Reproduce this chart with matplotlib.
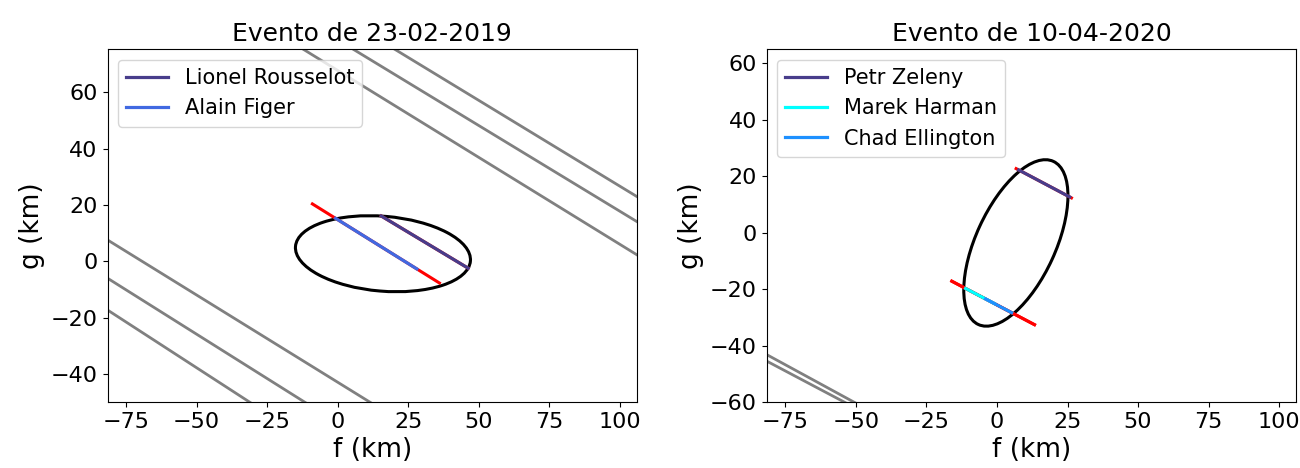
import numpy as np
import matplotlib
matplotlib.use("Agg")
import matplotlib.pyplot as plt
from matplotlib.patches import Ellipse
from matplotlib.ticker import MultipleLocator

# ---- Event of 23-02-2019 -------------------------------------------------
title_2019 = "Evento de 23-02-2019"
observers_2019 = ["Lionel Rousselot", "Alain Figer"]
colors_2019 = ["darkslateblue", "royalblue"]
# chord endpoints (f, g) in km
chord_start_2019 = [(15.4, 16.1), (-0.8, 15.28)]
chord_end_2019 = [(46.2, -2.45), (28.0, -2.70)]
# timing uncertainty extent of each chord
err_start_2019 = [(15.4, 16.1), (-9.0, 20.4)]
err_end_2019 = [(46.2, -2.45), (36.0, -7.7)]
# negative chords (two points on each line)
neg_start_2019 = [(-12.3, 75.4), (5.4, 75.4), (20.1, 75.4),
                  (-81.6, 7.6), (-81.6, -6.0), (-81.6, -17.3)]
neg_end_2019 = [(106.0, 2.3), (106.0, 14.1), (106.0, 23.0),
                (11.3, -50.0), (-11.8, -50.0), (-31.3, -50.0)]
# fitted limb: centre, semi-axes, position angle
ellipse_center_2019 = (16.0, 2.7)
ellipse_axes_2019 = (31.1, 13.3)
ellipse_angle_2019 = -4.8
xlim_2019 = (-81.6, 106.0)
ylim_2019 = (-50.0, 75.4)

# ---- Event of 10-04-2020 -------------------------------------------------
title_2020 = "Evento de 10-04-2020"
observers_2020 = ["Petr Zeleny", "Marek Harman", "Chad Ellington"]
colors_2020 = ["darkslateblue", "cyan", "dodgerblue"]
chord_start_2020 = [(7.7, 22.2), (-11.1, -19.78), (-4.0, -23.5)]
chord_end_2020 = [(25.8, 12.63), (-1.0, -25.08), (5.2, -28.34)]
err_start_2020 = [(6.8, 22.68), (-16.0, -17.2), (-16.0, -17.2)]
err_end_2020 = [(26.4, 12.31), (13.3, -32.6), (13.3, -32.6)]
neg_start_2020 = [(-81.6, -43.2), (-81.6, -45.5)]
neg_end_2020 = [(-50.0, -60.4), (-53.2, -60.5)]
ellipse_center_2020 = (6.7, -3.65)
ellipse_axes_2020 = (31.8, 14.1)
ellipse_angle_2020 = 65.3
xlim_2020 = (-81.6, 106.0)
ylim_2020 = (-60.0, 65.0)


def draw_event(ax, title, names, colors, c0, c1, e0, e1, n0, n1,
               center, axes, angle, xlim, ylim):
    t = np.array([-0.3, 1.3])
    for (fa, ga), (fb, gb) in zip(n0, n1):
        ax.plot(fa + t * (fb - fa), ga + t * (gb - ga),
                color="gray", lw=2.0, zorder=1)
    ax.add_patch(Ellipse(center, 2 * axes[0], 2 * axes[1], angle=angle,
                         fill=False, edgecolor="black", lw=2.2, zorder=2))
    for (fa, ga), (fb, gb) in zip(e0, e1):
        ax.plot([fa, fb], [ga, gb], color="red", lw=2.2, zorder=3)
    for name, col, (fa, ga), (fb, gb) in zip(names, colors, c0, c1):
        ax.plot([fa, fb], [ga, gb], color=col, lw=2.3, zorder=4, label=name)
    ax.set_xlim(*xlim)
    ax.set_ylim(*ylim)
    ax.xaxis.set_major_locator(MultipleLocator(25))
    ax.yaxis.set_major_locator(MultipleLocator(20))
    ax.set_title(title, fontsize=18)
    ax.set_xlabel("f (km)", fontsize=19)
    ax.set_ylabel("g (km)", fontsize=19)
    ax.tick_params(labelsize=16)
    ax.legend(loc="upper left", fontsize=15)


fig, (ax1, ax2) = plt.subplots(1, 2, figsize=(13, 4.68), dpi=100)
fig.subplots_adjust(left=0.0827, right=0.997, bottom=0.141, top=0.895,
                    wspace=0.245)

draw_event(ax1, title_2019, observers_2019, colors_2019,
           chord_start_2019, chord_end_2019, err_start_2019, err_end_2019,
           neg_start_2019, neg_end_2019, ellipse_center_2019,
           ellipse_axes_2019, ellipse_angle_2019, xlim_2019, ylim_2019)
draw_event(ax2, title_2020, observers_2020, colors_2020,
           chord_start_2020, chord_end_2020, err_start_2020, err_end_2020,
           neg_start_2020, neg_end_2020, ellipse_center_2020,
           ellipse_axes_2020, ellipse_angle_2020, xlim_2020, ylim_2020)

fig.savefig("out.png", dpi=100)
